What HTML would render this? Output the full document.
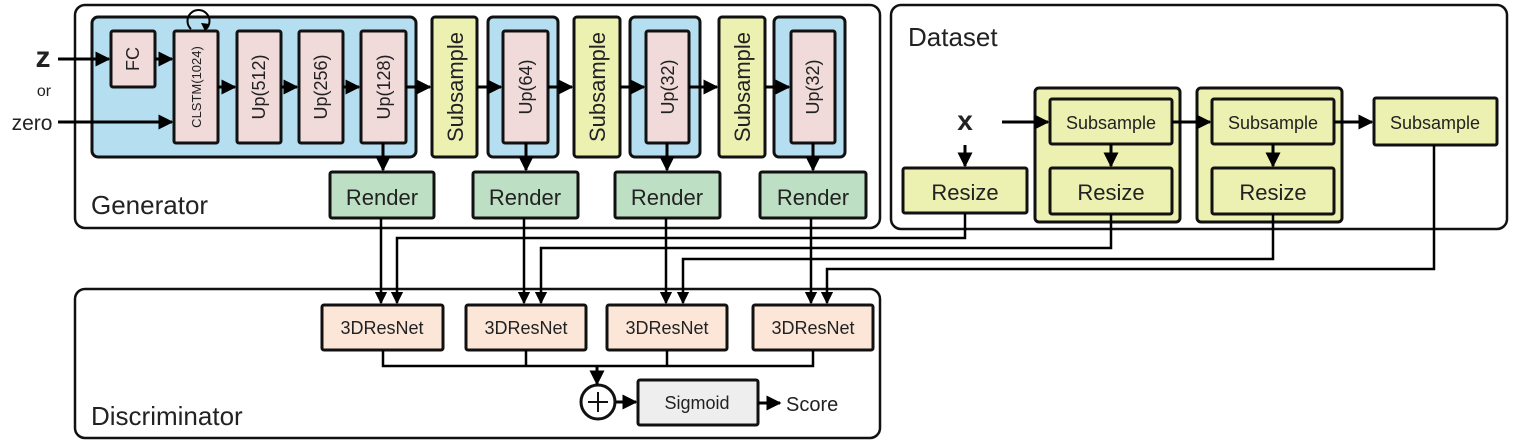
<!DOCTYPE html>
<html><head><meta charset="utf-8"><style>
html,body{margin:0;padding:0;background:#fff;}
svg{display:block;}
text{font-family:"Liberation Sans",sans-serif;fill:#222;}
</style></head><body>
<svg width="1513" height="444" viewBox="0 0 1513 444" xmlns="http://www.w3.org/2000/svg">
<defs>
<marker id="a" viewBox="0 0 10 10" refX="9" refY="5" markerWidth="5" markerHeight="5" orient="auto"><path d="M0,0L10,5L0,10z" fill="#000"/></marker>
</defs>
<g stroke="#111" stroke-width="2.5" fill="none">
<rect x="75" y="5" width="805" height="223" rx="10" fill="#fff"/>
<rect x="891" y="5" width="616" height="224" rx="10" fill="#fff"/>
<rect x="75" y="289" width="805" height="149" rx="10" fill="#fff"/>
</g>
<text x="91" y="214" font-size="26">Generator</text>
<text x="908" y="46" font-size="26">Dataset</text>
<text x="91" y="425" font-size="26">Discriminator</text>

<g stroke="#111" stroke-width="3">
<rect x="92" y="17" width="324" height="140" rx="6" fill="#b5dff0"/>
<rect x="111" y="31" width="44" height="56" rx="2" fill="#f1dada"/>
<rect x="174" y="31" width="44" height="112" rx="2" fill="#f1dada"/>
<rect x="237" y="31" width="44" height="112" rx="2" fill="#f1dada"/>
<rect x="299" y="31" width="44" height="112" rx="2" fill="#f1dada"/>
<rect x="361" y="31" width="45" height="112" rx="2" fill="#f1dada"/>
<rect x="432" y="17" width="45" height="140" rx="3" fill="#ecf0b0"/>
<rect x="488" y="17" width="70" height="140" rx="5" fill="#b5dff0"/>
<rect x="503" y="31" width="45" height="112" rx="2" fill="#f1dada"/>
<rect x="574" y="17" width="46" height="140" rx="3" fill="#ecf0b0"/>
<rect x="630" y="17" width="70" height="140" rx="5" fill="#b5dff0"/>
<rect x="646" y="31" width="43" height="112" rx="2" fill="#f1dada"/>
<rect x="719" y="17" width="46" height="140" rx="3" fill="#ecf0b0"/>
<rect x="774" y="17" width="71" height="140" rx="5" fill="#b5dff0"/>
<rect x="791" y="31" width="44" height="112" rx="2" fill="#f1dada"/>
<rect x="330" y="172" width="104" height="46" rx="2" fill="#bde0c4"/>
<rect x="473" y="172" width="105" height="46" rx="2" fill="#bde0c4"/>
<rect x="615" y="172" width="105" height="46" rx="2" fill="#bde0c4"/>
<rect x="760" y="172" width="106" height="46" rx="2" fill="#bde0c4"/>
<rect x="903" y="168" width="124" height="45" rx="2" fill="#ecf0b0"/>
<rect x="1035" y="88" width="145" height="134" rx="4" fill="#ecf0b0"/>
<rect x="1050" y="99" width="122" height="45" rx="2" fill="#ecf0b0"/>
<rect x="1050" y="168" width="122" height="46" rx="2" fill="#ecf0b0"/>
<rect x="1197" y="88" width="145" height="134" rx="4" fill="#ecf0b0"/>
<rect x="1212" y="99" width="122" height="45" rx="2" fill="#ecf0b0"/>
<rect x="1212" y="168" width="122" height="46" rx="2" fill="#ecf0b0"/>
<rect x="1374" y="98" width="123" height="47" rx="2" fill="#ecf0b0"/>
<rect x="322" y="305" width="121" height="45" rx="2" fill="#fbe6d8"/>
<rect x="466" y="305" width="120" height="45" rx="2" fill="#fbe6d8"/>
<rect x="607" y="305" width="120" height="45" rx="2" fill="#fbe6d8"/>
<rect x="753" y="305" width="120" height="45" rx="2" fill="#fbe6d8"/>
<rect x="638" y="380" width="120" height="45" rx="2" fill="#eeeeee"/>
<circle cx="598" cy="402" r="17" fill="#fff"/>
</g>
<path d="M598,392v20M588,402h20" stroke="#111" stroke-width="2"/>

<g stroke="#000" stroke-width="3" fill="none" marker-end="url(#a)">
<path d="M58,59H109"/><path d="M155,59H172"/><path d="M58,122H172"/>
<path d="M218,87H235"/><path d="M281,87H297"/><path d="M343,87H359"/><path d="M406,87H430"/>
<path d="M477,87H501"/><path d="M548,87H572"/><path d="M620,87H644"/><path d="M689,87H717"/><path d="M765,87H789"/>
<path d="M383,143V170"/><path d="M526,143V170"/><path d="M667,143V170"/><path d="M813,143V170"/>
<path d="M1002,122H1048"/><path d="M1172,122H1210"/><path d="M1334,122H1372"/>
<path d="M965,145V166"/><path d="M1111,144V166"/><path d="M1273,144V166"/>
<path d="M597,366V384"/><path d="M616,402H636"/><path d="M758,403H780"/>
</g>
<g stroke="#000" stroke-width="2.5" fill="none" marker-end="url(#a)">
<path d="M381,218V303"/><path d="M524,218V303"/><path d="M666,218V303"/><path d="M811,218V303"/>
<path d="M965,213V238H397V303"/>
<path d="M1111,214V248H541V303"/>
<path d="M1273,214V259H683V303"/>
<path d="M1434,145V269H827V303"/>
</g>
<path d="M191,29A11,11 0 1 1 206,29" stroke="#000" stroke-width="2" fill="none"/>
<path d="M201,23L210,24L205,31z" fill="#000"/>
<path d="M383,350V366H813V350M526,350V366M667,350V366" stroke="#000" stroke-width="2.5" fill="none"/>

<g font-size="22" text-anchor="middle">
<text x="382" y="205">Render</text><text x="525" y="205">Render</text>
<text x="667" y="205">Render</text><text x="813" y="205">Render</text>
<text x="965" y="200">Resize</text><text x="1111" y="200">Resize</text><text x="1273" y="200">Resize</text>
</g>
<g font-size="18" text-anchor="middle">
<text x="1111" y="129">Subsample</text><text x="1273" y="129">Subsample</text><text x="1435" y="129">Subsample</text>
<text x="382" y="334">3DResNet</text><text x="526" y="334">3DResNet</text>
<text x="667" y="334">3DResNet</text><text x="813" y="334">3DResNet</text>
<text x="697" y="409">Sigmoid</text>
</g>
<text x="786" y="411" font-size="20">Score</text>
<text x="43" y="67" font-size="30" font-weight="bold" font-family="Liberation Serif" text-anchor="middle">z</text>
<text x="44" y="96" font-size="16" text-anchor="middle">or</text>
<text x="32" y="130" font-size="21" text-anchor="middle">zero</text>
<text x="965" y="130" font-size="28" font-weight="bold" font-family="Liberation Serif" text-anchor="middle">x</text>
<g font-size="18" text-anchor="middle">
<text transform="translate(139,59) rotate(-90)">FC</text>
<text transform="translate(201,87) rotate(-90)" font-size="13">CLSTM(1024)</text>
<text transform="translate(265,87) rotate(-90)">Up(512)</text>
<text transform="translate(327,87) rotate(-90)">Up(256)</text>
<text transform="translate(390,87) rotate(-90)">Up(128)</text>
<text transform="translate(532,87) rotate(-90)">Up(64)</text>
<text transform="translate(674,87) rotate(-90)">Up(32)</text>
<text transform="translate(819,87) rotate(-90)">Up(32)</text>
</g>
<g font-size="22" text-anchor="middle">
<text transform="translate(463,87) rotate(-90)">Subsample</text>
<text transform="translate(605,87) rotate(-90)">Subsample</text>
<text transform="translate(750,87) rotate(-90)">Subsample</text>
</g>
</svg>
</body></html>
